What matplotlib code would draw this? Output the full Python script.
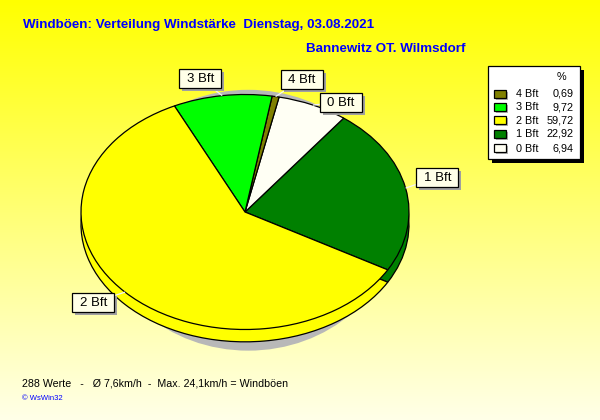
import numpy as np
import matplotlib
matplotlib.use("Agg")
import matplotlib.pyplot as plt
from matplotlib import patches

plt.rcParams["font.family"] = ["Liberation Sans", "DejaVu Sans"]

# --- data -------------------------------------------------------------
categories = ["4 Bft", "3 Bft", "2 Bft", "1 Bft", "0 Bft"]
percent = [0.69, 9.72, 59.72, 22.92, 6.94]
percent_labels = ["0,69", "9,72", "59,72", "22,92", "6,94"]
colors = ["#808000", "#00FF00", "#FFFF00", "#008000", "#FFFFF4"]

title = "Windböen: Verteilung Windstärke  Dienstag, 03.08.2021"
subtitle = "Bannewitz OT. Wilmsdorf"
footer = "288 Werte   -   Ø 7,6km/h  -  Max. 24,1km/h = Windböen"
credit = "© WsWin32"

# drawing order around the pie (counter-clockwise)
pie_order = ["1 Bft", "0 Bft", "4 Bft", "3 Bft", "2 Bft"]

# --- layout (pixels) --------------------------------------------------
W, H = 600, 420
cx, cy, rx, ry = 245, 212, 164, 117.5
depth = 0.105
start_angle = -29.5
label_pos = {"3 Bft": (200, 78.5), "4 Bft": (301.5, 79.5), "0 Bft": (340.5, 102),
             "1 Bft": (437, 177.5), "2 Bft": (93, 302.5)}
box_w, box_h = 42, 19

fig = plt.figure(figsize=(W / 100, H / 100), dpi=100)

# background gradient
bg = fig.add_axes([0, 0, 1, 1])
t = np.linspace(0, 1, 256)[:, None]
top = np.array([255, 255, 0]) / 255
bot = np.array([255, 255, 232]) / 255
grad = top[None, None, :] * (1 - t[..., None]) + bot[None, None, :] * t[..., None]
grad = np.repeat(grad, 2, axis=1)
bg.imshow(grad, aspect="auto", extent=[0, W, H, 0])
bg.set_xlim(0, W)
bg.set_ylim(H, 0)
bg.axis("off")

# pie axes: unit radius maps to rx / ry pixels
ax = fig.add_axes([0, 0, 1, 1])
ax.patch.set_alpha(0)
xl = (-cx / rx, (W - cx) / rx)
yl = (-(H - cy) / ry, cy / ry)

vals = [percent[categories.index(c)] for c in pie_order]
cols = [colors[categories.index(c)] for c in pie_order]

# shadow behind the pie
ax.add_patch(patches.Ellipse((0.02, -0.07), 1.8, 2.22, facecolor="#B8B8B8",
                             edgecolor="none", zorder=1))

wp = dict(edgecolor="black", linewidth=0.9)
# side of the disc
low, _ = ax.pie(vals, colors=cols, startangle=start_angle, counterclock=True,
                center=(0, -depth), radius=1, wedgeprops=wp, frame=True)
for w in low:
    w.set_zorder(2)
# top face
wedges, _ = ax.pie(vals, colors=cols, startangle=start_angle, counterclock=True,
                   center=(0, 0), radius=1, wedgeprops=wp, frame=True)
for w in wedges:
    w.set_zorder(3)

ax.set_aspect("auto")
ax.set_xlim(*xl)
ax.set_ylim(*yl)
ax.axis("off")

# overlay for texts, label boxes and legend in pixel coordinates
ov = fig.add_axes([0, 0, 1, 1])
ov.patch.set_alpha(0)
ov.set_xlim(0, W)
ov.set_ylim(H, 0)
ov.axis("off")

# leader lines from the rim to the label boxes
for w, name in zip(wedges, pie_order):
    mid = np.deg2rad((w.theta1 + w.theta2) / 2)
    ex, ey = cx + rx * np.cos(mid), cy - ry * np.sin(mid)
    px, py = label_pos[name]
    ov.plot([ex, px], [ey, py], color="#F4F4F4", lw=0.9, zorder=4,
            solid_capstyle="butt")
    ov.add_patch(patches.Rectangle((px - box_w / 2 + 3, py - box_h / 2 + 3),
                                   box_w, box_h, facecolor="#A0A0A0",
                                   edgecolor="none", zorder=5))
    ov.add_patch(patches.Rectangle((px - box_w / 2, py - box_h / 2),
                                   box_w, box_h, facecolor="#FFFFE8",
                                   edgecolor="black", linewidth=0.9, zorder=6))
    ov.text(px + 0.5, py + 0.5, name, ha="center", va="center", fontsize=9.5,
            zorder=7)

ov.text(23, 25, title, color="#0000FF", fontsize=9.6, fontweight="bold",
        ha="left", va="center")
ov.text(306, 48.5, subtitle, color="#0000FF", fontsize=9.6, fontweight="bold",
        ha="left", va="center")
ov.text(22, 383, footer, color="black", fontsize=7.7, ha="left", va="center")
ov.text(22, 398.5, credit, color="#0000FF", fontsize=5.5, ha="left", va="center")

# legend box
lx0, ly0, lw_, lh_ = 488, 66, 92, 93
ov.add_patch(patches.Rectangle((lx0 + 4, ly0 + 4), lw_, lh_, facecolor="#000000",
                               edgecolor="none", zorder=5))
ov.add_patch(patches.Rectangle((lx0, ly0), lw_, lh_, facecolor="white",
                               edgecolor="black", linewidth=0.9, zorder=6))
ov.text(561, 77, "%", fontsize=7.8, ha="center", va="center", zorder=7)
row_y = [94, 107, 120.5, 134, 148.5]
for name, lab, c, yy in zip(categories, percent_labels, colors, row_y):
    ov.add_patch(patches.Rectangle((496, yy - 2.5), 12, 8, facecolor="#B0B0B0",
                                   edgecolor="none", zorder=7))
    ov.add_patch(patches.Rectangle((494, yy - 4.5), 12, 8, facecolor=c,
                                   edgecolor="black", linewidth=0.9, zorder=8))
    ov.text(516, yy, name, fontsize=7.8, ha="left", va="center", zorder=8)
    ov.text(573.5, yy, lab, fontsize=7.8, ha="right", va="center", zorder=8)

fig.savefig("out.png", dpi=100)
